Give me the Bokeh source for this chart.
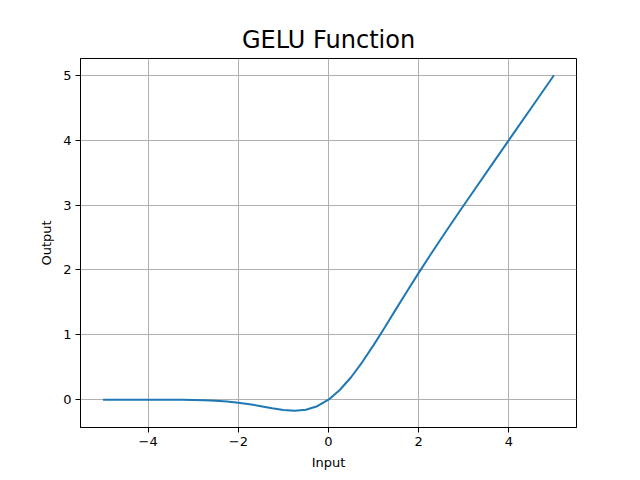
from bokeh.plotting import figure
from bokeh.models import Range1d, FixedTicker, ColumnDataSource
from bokeh.embed import file_html
from bokeh.resources import INLINE

# GELU curve values
x_vals = [-5.0, -4.75, -4.5, -4.25, -4.0, -3.75, -3.5, -3.25, -3.0, -2.75,
          -2.5, -2.25, -2.0, -1.75, -1.5, -1.25, -1.0, -0.75, -0.5, -0.25,
          0.0, 0.25, 0.5, 0.75, 1.0, 1.25, 1.5, 1.75, 2.0, 2.25,
          2.5, 2.75, 3.0, 3.25, 3.5, 3.75, 4.0, 4.25, 4.5, 4.75, 5.0]
y_vals = [0.0, 0.0, -0.00002, -0.00005, -0.00013, -0.00033, -0.00081, -0.00188, -0.00405, -0.00819,
          -0.0155, -0.0275, -0.0455, -0.0701, -0.1002, -0.1321, -0.1587, -0.1700, -0.1543, -0.1003,
          0.0, 0.1497, 0.3457, 0.5800, 0.8413, 1.1179, 1.3998, 1.6799, 1.9545, 2.2225,
          2.4845, 2.7418, 2.9960, 3.2481, 3.4992, 3.7497, 3.9999, 4.25, 4.5, 4.75, 5.0]

x_ticks = [-4, -2, 0, 2, 4]
x_tick_labels = ["\u22124", "\u22122", "0", "2", "4"]
y_ticks = [0, 1, 2, 3, 4, 5]

title_text = "GELU Function"
x_label = "Input"
y_label = "Output"

src = ColumnDataSource(dict(x=x_vals, y=y_vals))

p = figure(width=640, height=480, output_backend="svg", toolbar_location=None,
           x_range=Range1d(-5.5, 5.5), y_range=Range1d(-0.4285, 5.2585),
           frame_width=496, frame_height=369,
           min_border_left=80, min_border_right=64, min_border_top=58, min_border_bottom=53)

p.title.text = title_text
p.title.align = "center"
p.title.text_font = "DejaVu Sans"
p.title.text_font_size = "24px"
p.title.text_font_style = "normal"
p.title.text_color = "black"

p.line("x", "y", source=src, line_color="#1f77b4", line_width=2)

p.outline_line_color = "black"
p.outline_line_width = 1
p.background_fill_color = "white"
p.border_fill_color = "white"

for ax in (p.xaxis[0], p.yaxis[0]):
    ax.axis_line_color = "black"
    ax.major_tick_in = 0
    ax.major_tick_out = 5
    ax.minor_tick_line_color = None
    ax.major_label_text_font = "DejaVu Sans"
    ax.major_label_text_font_size = "13px"
    ax.major_label_text_color = "black"
    ax.axis_label_text_font = "DejaVu Sans"
    ax.axis_label_text_font_size = "13px"
    ax.axis_label_text_font_style = "normal"
    ax.axis_label_text_color = "black"
    ax.major_label_standoff = 4
    ax.axis_label_standoff = 6

p.xaxis[0].ticker = FixedTicker(ticks=x_ticks)
p.xaxis[0].major_label_overrides = {t: l for t, l in zip(x_ticks, x_tick_labels)}
p.yaxis[0].ticker = FixedTicker(ticks=y_ticks)
p.xaxis[0].axis_label = x_label
p.yaxis[0].axis_label = y_label

p.grid.grid_line_color = "#b0b0b0"
p.grid.grid_line_width = 1
p.xgrid.ticker = FixedTicker(ticks=x_ticks)
p.ygrid.ticker = FixedTicker(ticks=y_ticks)

open("out.html", "w").write(file_html(p, INLINE))
